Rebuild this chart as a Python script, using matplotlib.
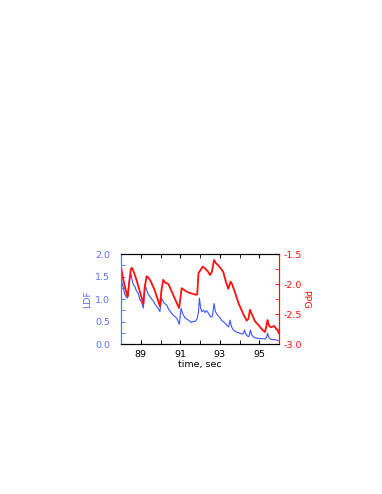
import matplotlib
matplotlib.use("Agg")
import matplotlib.pyplot as plt
from matplotlib.ticker import MultipleLocator, FormatStrFormatter

# PPG (red, right axis)
ppg_t = [88.00, 88.10, 88.20, 88.30, 88.34, 88.42, 88.50, 88.55, 88.65, 88.80, 88.95,
         89.13, 89.20, 89.30, 89.40, 89.50, 89.70, 89.97, 90.05, 90.14, 90.25, 90.40,
         90.60, 90.80, 90.94, 91.00, 91.07, 91.20, 91.40, 91.60, 91.80, 91.86, 91.92,
         92.00, 92.13, 92.25, 92.42, 92.50, 92.60, 92.71, 92.80, 92.93, 93.05, 93.18,
         93.30, 93.43, 93.55, 93.62, 93.77, 93.95, 94.19, 94.36, 94.45, 94.53, 94.62,
         94.78, 95.00, 95.15, 95.29, 95.36, 95.42, 95.50, 95.60, 95.75, 95.90, 96.00]
ppg = [-1.72, -1.90, -2.05, -2.18, -2.21, -1.95, -1.75, -1.73, -1.80, -1.95, -2.12,
       -2.33, -2.05, -1.87, -1.90, -1.95, -2.10, -2.37, -2.10, -1.93, -1.98, -2.00,
       -2.15, -2.30, -2.40, -2.25, -2.07, -2.10, -2.14, -2.16, -2.18, -2.17, -1.82,
       -1.78, -1.71, -1.74, -1.80, -1.85, -1.80, -1.60, -1.65, -1.69, -1.74, -1.80,
       -1.95, -2.08, -1.96, -2.00, -2.14, -2.32, -2.50, -2.61, -2.58, -2.43, -2.50,
       -2.62, -2.70, -2.76, -2.80, -2.70, -2.60, -2.70, -2.72, -2.70, -2.76, -2.82]

# LDF (blue, left axis)
ldf_t = [88.00, 88.05, 88.12, 88.18, 88.25, 88.32, 88.38, 88.45, 88.49, 88.55, 88.62,
         88.70, 88.78, 88.87, 88.95, 89.05, 89.13, 89.18, 89.22, 89.30, 89.38, 89.47,
         89.55, 89.65, 89.73, 89.81, 89.90, 89.97, 90.05, 90.12, 90.20, 90.31, 90.40,
         90.50, 90.60, 90.70, 90.81, 90.90, 90.95, 91.04, 91.12, 91.24, 91.35, 91.45,
         91.55, 91.65, 91.75, 91.85, 91.92, 91.97, 92.03, 92.09, 92.18, 92.25, 92.33,
         92.40, 92.47, 92.55, 92.63, 92.71, 92.78, 92.86, 92.93, 93.02, 93.10, 93.18,
         93.27, 93.35, 93.45, 93.52, 93.60, 93.69, 93.78, 93.88, 93.95, 94.03, 94.12,
         94.20, 94.25, 94.32, 94.40, 94.45, 94.50, 94.55, 94.62, 94.70, 94.78, 94.88,
         95.00, 95.10, 95.21, 95.30, 95.37, 95.42, 95.48, 95.56, 95.64, 95.75, 95.85,
         95.93, 96.00]
ldf = [1.55, 1.35, 1.25, 1.12, 1.05, 1.02, 1.25, 1.48, 1.57, 1.45, 1.32,
       1.28, 1.18, 1.13, 1.00, 0.92, 0.80, 1.10, 1.31, 1.20, 1.10, 1.05,
       1.00, 0.95, 0.88, 0.83, 0.78, 0.72, 1.02, 0.95, 0.90, 0.87, 0.78,
       0.72, 0.66, 0.62, 0.58, 0.50, 0.44, 0.79, 0.68, 0.58, 0.55, 0.52,
       0.48, 0.50, 0.50, 0.56, 0.70, 1.02, 0.80, 0.72, 0.75, 0.70, 0.74,
       0.70, 0.65, 0.60, 0.62, 0.90, 0.72, 0.66, 0.62, 0.58, 0.52, 0.50,
       0.46, 0.42, 0.38, 0.53, 0.38, 0.31, 0.28, 0.26, 0.25, 0.24, 0.22,
       0.24, 0.31, 0.22, 0.18, 0.16, 0.20, 0.31, 0.20, 0.16, 0.14, 0.13,
       0.12, 0.12, 0.12, 0.11, 0.15, 0.24, 0.15, 0.11, 0.10, 0.10, 0.09,
       0.08, 0.07]

blue = "#3a55ff"
blue_txt = "#5c70ff"
red = "#ff1010"

plt.rcParams["font.size"] = 6.8

fig = plt.figure(figsize=(3.82, 4.94), dpi=100)
ax = fig.add_axes([0.3168, 0.3036, 0.4136, 0.1822])
ax2 = ax.twinx()

ax.plot(ldf_t, ldf, color=blue, lw=0.8)
ax2.plot(ppg_t, ppg, color=red, lw=1.3)

ax.set_xlim(88, 96)
ax.set_ylim(0, 2)
ax2.set_ylim(-3, -1.5)

ax.set_xticks([89, 91, 93, 95])
ax.xaxis.set_minor_locator(MultipleLocator(1))
ax.yaxis.set_major_locator(MultipleLocator(0.5))
ax.yaxis.set_minor_locator(MultipleLocator(0.25))
ax2.yaxis.set_major_locator(MultipleLocator(0.5))
ax2.yaxis.set_minor_locator(MultipleLocator(0.25))
ax.yaxis.set_major_formatter(FormatStrFormatter("%.1f"))
ax2.yaxis.set_major_formatter(FormatStrFormatter("%.1f"))

ax.tick_params(axis="x", which="both", direction="in", top=True, length=3, pad=4)
ax.tick_params(axis="y", which="both", direction="in", colors=blue_txt, length=3, pad=8)
ax2.tick_params(axis="y", which="both", direction="in", colors=red, length=3, pad=3)

ax2.spines["left"].set_color(blue_txt)
ax2.spines["right"].set_color(red)
ax.spines["left"].set_color(blue_txt)
ax.spines["right"].set_color(red)
for a in (ax, ax2):
    for s in a.spines.values():
        s.set_linewidth(0.8)

ax.set_xlabel("time, sec", labelpad=1)
ax.set_ylabel("LDF", color=blue_txt, labelpad=2)
ax2.set_ylabel("PPG", color=red, rotation=270, labelpad=6)

plt.savefig("out.png", dpi=100)
plt.close()
